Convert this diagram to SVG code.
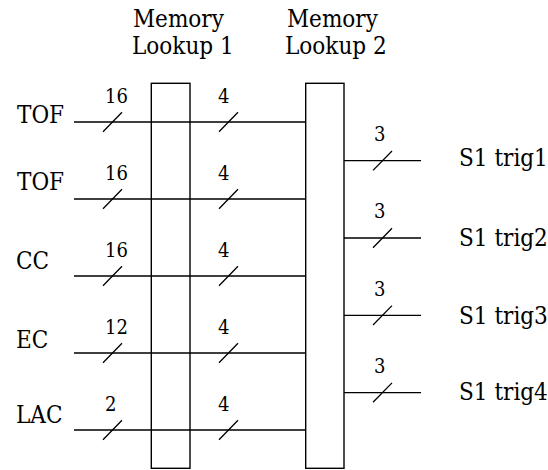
<svg xmlns="http://www.w3.org/2000/svg" width="548" height="470" viewBox="0 0 548 470">
<style>
.lbl,.num{font-family:'DejaVu Serif Condensed','DejaVu Serif',serif;font-stretch:condensed;fill:#000}
.lbl{font-size:24px}
.num{font-size:20px}
.w{stroke:#000;stroke-width:1.3;fill:none}
.box{stroke:#000;stroke-width:1.4;fill:none}
</style>
<g id="titles">
<text class="lbl" x="133" y="27">Memory</text>
<text class="lbl" x="132" y="54">Lookup 1</text>
<text class="lbl" x="287" y="27">Memory</text>
<text class="lbl" x="285" y="54">Lookup 2</text>
</g>
<g id="connectors">
<path class="w" d="M74,122H306M74,199H306M74,276H306M74,353H306M74,430H306"/>
<path class="w" d="M344,160.7H421M344,238H421M344,315.3H421M344,392.6H421"/>
<path class="w" d="M103,131.7L122,112.3M219,131.7L238,112.3M103,208.7L122,189.3M219,208.7L238,189.3M103,285.7L122,266.3M219,285.7L238,266.3M103,362.7L122,343.3M219,362.7L238,343.3M103,439.7L122,420.3M219,439.7L238,420.3"/>
<path class="w" d="M373,170.4L392,151M373,247.7L392,228.3M373,325L392,305.6M373,402.3L392,382.9"/>
</g>
<g id="memory-lookup-1"><rect class="box" x="151.3" y="83.3" width="38.7" height="385"/></g>
<g id="memory-lookup-2"><rect class="box" x="305.7" y="83.3" width="38.3" height="385"/></g>
<g id="inputs">
<text class="lbl" x="17" y="123">TOF</text>
<text class="lbl" x="17" y="190">TOF</text>
<text class="lbl" x="16" y="269">CC</text>
<text class="lbl" x="16" y="348">EC</text>
<text class="lbl" x="16" y="423">LAC</text>
</g>
<g id="widths">
<text class="num" x="105" y="103">16</text>
<text class="num" x="218" y="103">4</text>
<text class="num" x="105" y="180">16</text>
<text class="num" x="218" y="180">4</text>
<text class="num" x="105" y="257">16</text>
<text class="num" x="218" y="257">4</text>
<text class="num" x="105" y="334">12</text>
<text class="num" x="218" y="334">4</text>
<text class="num" x="105" y="411">2</text>
<text class="num" x="218" y="411">4</text>
<text class="num" x="374" y="141">3</text>
<text class="num" x="374" y="218">3</text>
<text class="num" x="374" y="296">3</text>
<text class="num" x="374" y="373">3</text>
</g>
<g id="outputs">
<text class="lbl" x="459" y="166">S1 trig1</text>
<text class="lbl" x="459" y="246">S1 trig2</text>
<text class="lbl" x="459" y="324">S1 trig3</text>
<text class="lbl" x="459" y="400">S1 trig4</text>
</g>
</svg>
